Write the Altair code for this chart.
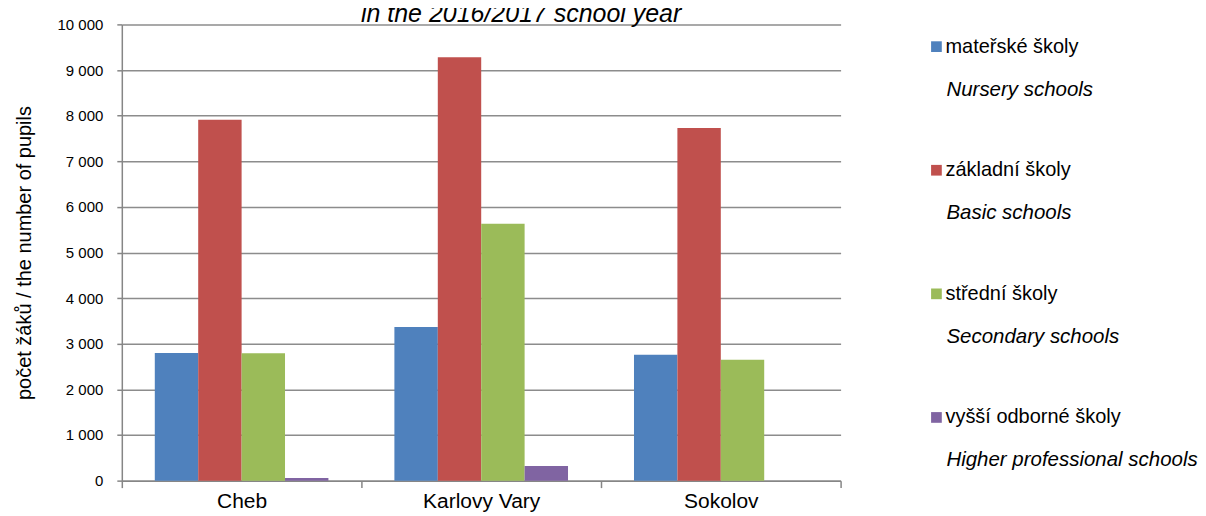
import altair as alt
import pandas as pd

regions = ["Cheb", "Karlovy Vary", "Sokolov"]
series_cz = ["mateřské školy", "základní školy", "střední školy", "vyšší odborné školy"]
series_en = ["Nursery schools", "Basic schools", "Secondary schools", "Higher professional schools"]
colors = ["#4F81BD", "#C0504D", "#9BBB59", "#8064A2"]
nursery = [2800, 3370, 2760]
basic = [7910, 9280, 7730]
secondary = [2790, 5630, 2650]
higher = [60, 320, 0]
y_ticks = [0, 1000, 2000, 3000, 4000, 5000, 6000, 7000, 8000, 9000, 10000]

values = [nursery, basic, secondary, higher]
rows = []
for s, vals in zip(series_cz, values):
    for r, v in zip(regions, vals):
        rows.append({"region": r, "series": s, "pupils": v})
df = pd.DataFrame(rows)

leg_df = pd.DataFrame({"series": series_cz, "en": series_en})

FONT = "Liberation Sans"
color_scale = alt.Scale(domain=series_cz, range=colors)

bars = alt.Chart(df).mark_bar().encode(
    x=alt.X("region:N", sort=regions,
            scale=alt.Scale(paddingInner=0, paddingOuter=0),
            axis=alt.Axis(title=None, labelAngle=0, tickBand="extent", ticks=True,
                          tickSize=7, labelFontSize=21, labelPadding=3, grid=False)),
    xOffset=alt.XOffset("series:N", sort=series_cz,
                        scale=alt.Scale(paddingInner=0, paddingOuter=0.76)),
    y=alt.Y("pupils:Q", scale=alt.Scale(domain=[0, 10000], nice=False),
            axis=alt.Axis(title="počet žáků /  the number of pupils", values=y_ticks,
                          labelExpr="replace(format(datum.value, ','), ',', ' ')",
                          titleFontSize=20, titleFontWeight="normal", titlePadding=23,
                          labelFontSize=15, labelPadding=14, tickSize=5, grid=True)),
    color=alt.Color("series:N", scale=color_scale, legend=None),
).properties(width=720, height=457)

leg_y = alt.Y("series:N", sort=series_cz, axis=None,
              scale=alt.Scale(type="point", padding=0.18))

squares = alt.Chart(leg_df).mark_square(size=115, opacity=1).encode(
    x=alt.value(75), y=leg_y,
    color=alt.Color("series:N", scale=color_scale, legend=None),
)
cz_text = alt.Chart(leg_df).mark_text(align="left", baseline="middle", fontSize=20,
                                      font=FONT, color="black").encode(
    x=alt.value(84), y=leg_y, text="series:N")
en_text = alt.Chart(leg_df).mark_text(align="left", baseline="middle", fontSize=20.5,
                                      font=FONT, fontStyle="italic", dy=43,
                                      color="black").encode(
    x=alt.value(85), y=leg_y, text="en:N")

legend_panel = alt.layer(squares, cz_text, en_text).properties(width=270, height=416)

chart = alt.hconcat(bars, legend_panel, spacing=20).properties(
    title=alt.TitleParams("in the 2016/2017  school year", fontSize=25, font=FONT,
                          fontStyle="italic", fontWeight="normal", anchor="middle",
                          dx=-85, offset=-10, color="black"),
    padding={"left": 6, "top": -6, "right": 0, "bottom": 0},
).configure(font=FONT).configure_view(
    strokeOpacity=0, strokeWidth=0
).configure_axis(
    labelFont=FONT, titleFont=FONT, labelColor="black", titleColor="black",
    domainColor="#868686", tickColor="#868686", gridColor="#8c8c8c", gridWidth=1.5,
    domainWidth=1.5, tickWidth=1.5,
)

chart.save("out.html", embed_options={"renderer": "svg", "actions": False})
